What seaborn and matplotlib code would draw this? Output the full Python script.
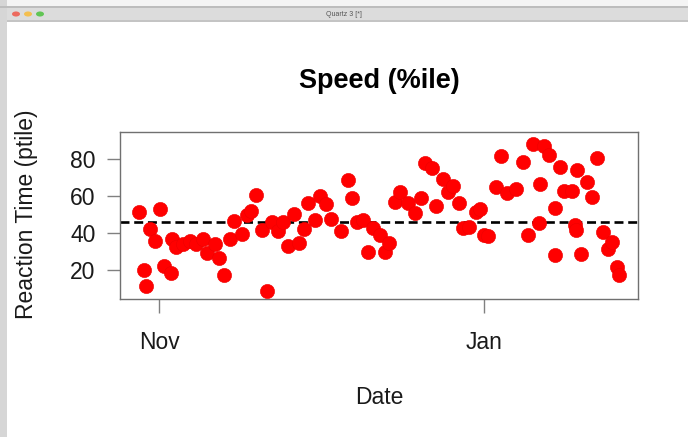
import matplotlib
matplotlib.use("Agg")
import matplotlib.pyplot as plt
from matplotlib.patches import Rectangle, Circle
import pandas as pd
import seaborn as sns

# Daily speed percentile scores
dates = [
    "2015-10-28 06:00", "2015-10-29 06:00", "2015-10-29 12:00", "2015-10-30 06:00",
    "2015-10-31 06:00", "2015-11-01 06:00", "2015-11-02 00:00", "2015-11-03 06:00",
    "2015-11-03 12:00", "2015-11-04 06:00", "2015-11-05 12:00", "2015-11-06 18:00",
    "2015-11-08 00:00", "2015-11-09 06:00", "2015-11-10 00:00", "2015-11-11 12:00",
    "2015-11-12 06:00", "2015-11-13 06:00", "2015-11-14 06:00", "2015-11-15 00:00",
    "2015-11-16 12:00", "2015-11-17 12:00", "2015-11-18 06:00", "2015-11-19 06:00",
    "2015-11-20 06:00", "2015-11-21 06:00", "2015-11-22 06:00", "2015-11-23 06:00",
    "2015-11-24 06:00", "2015-11-25 06:00", "2015-11-26 06:00", "2015-11-27 06:00",
    "2015-11-28 06:00", "2015-11-29 00:00", "2015-11-30 06:00", "2015-12-01 06:00",
    "2015-12-02 06:00", "2015-12-03 06:00", "2015-12-05 06:00", "2015-12-06 12:00",
    "2015-12-07 06:00", "2015-12-08 06:00", "2015-12-09 06:00", "2015-12-10 06:00",
    "2015-12-11 06:00", "2015-12-12 12:00", "2015-12-13 12:00", "2015-12-14 06:00",
    "2015-12-15 06:00", "2015-12-16 06:00", "2015-12-17 18:00", "2015-12-19 00:00",
    "2015-12-20 06:00", "2015-12-21 00:00", "2015-12-22 06:00", "2015-12-23 00:00",
    "2015-12-24 06:00", "2015-12-25 06:00", "2015-12-26 06:00", "2015-12-27 06:00",
    "2015-12-28 00:00", "2015-12-29 06:00", "2015-12-30 12:00", "2015-12-31 06:00",
    "2016-01-01 00:00", "2016-01-01 18:00", "2016-01-03 06:00", "2016-01-04 06:00",
    "2016-01-05 06:00", "2016-01-07 00:00", "2016-01-08 06:00", "2016-01-09 06:00",
    "2016-01-10 06:00", "2016-01-11 06:00", "2016-01-11 12:00", "2016-01-12 06:00",
    "2016-01-13 06:00", "2016-01-14 06:00", "2016-01-14 06:00", "2016-01-15 06:00",
    "2016-01-16 00:00", "2016-01-17 12:00", "2016-01-18 00:00", "2016-01-18 06:00",
    "2016-01-18 12:00", "2016-01-19 06:00", "2016-01-20 06:00", "2016-01-21 06:00",
    "2016-01-22 06:00", "2016-01-23 06:00", "2016-01-24 06:00", "2016-01-25 00:00",
    "2016-01-26 00:00", "2016-01-26 06:00",
]
speed_ptile = [
    51.5, 20.0, 11.4, 42.0,
    35.7, 53.0, 22.3, 18.6,
    37.0, 32.3, 34.2, 35.8,
    34.0, 36.6, 29.4, 34.0,
    26.6, 17.3, 37.0, 46.7,
    39.3, 49.7, 52.0, 60.5,
    41.6, 8.8, 46.0, 41.0,
    46.0, 33.0, 50.3, 34.4,
    42.0, 56.0, 47.0, 60.2,
    55.7, 47.4, 41.0, 68.6,
    58.8, 46.0, 47.0, 29.9,
    42.5, 39.0, 29.6, 34.8,
    56.6, 62.3, 56.4, 50.6,
    58.8, 77.7, 75.3, 54.8,
    69.2, 62.3, 65.6, 56.4,
    42.9, 43.4, 51.2, 52.8,
    39.0, 38.4, 65.0, 81.6,
    61.4, 63.8, 78.6, 39.0,
    88.0, 45.2, 66.3, 87.2,
    82.2, 53.7, 28.1, 75.8,
    62.7, 62.7, 44.3, 41.6,
    74.0, 28.5, 67.8, 59.6,
    80.4, 40.4, 31.2, 35.3,
    21.8, 17.3,
]
reference_level = 46
y_ticks = [20, 40, 60, 80]
x_tick_dates = ["2015-11-01", "2016-01-01"]
x_tick_labels = ["Nov", "Jan"]

df = pd.DataFrame({"Date": pd.to_datetime(dates), "Speed": speed_ptile})

sns.set_theme(style="white")
plt.rcParams["font.family"] = ["Liberation Sans", "DejaVu Sans"]

W, H = 688, 437
fig = plt.figure(figsize=(W / 100, H / 100), dpi=100)
fig.patch.set_facecolor("white")

# window frame around the graphics device
def px_rect(x0, y0, x1, y1, color, z=0):
    fig.patches.append(Rectangle((x0 / W, 1 - y1 / H), (x1 - x0) / W, (y1 - y0) / H,
                                 transform=fig.transFigure, facecolor=color,
                                 edgecolor="none", zorder=z))

px_rect(0, 0, W, 7, "#f4f4f4")
px_rect(0, 0, 7, H, "#d6d6d6")
px_rect(7, 7, W, 21, "#dcdcdc")
px_rect(7, 20, W, 22, "#c4c4c4")
px_rect(0, 6, W, 8, "#bdbdbd")
for cx, col in zip([16, 28, 40], ["#ec6a5e", "#f4bf4f", "#61c554"]):
    fig.patches.append(Circle((cx / W, 1 - 14 / H), 4 / W, transform=fig.transFigure,
                              facecolor=col, edgecolor="none", zorder=2))
fig.text(344 / W, 1 - 14 / H, "Quartz 3 [*]", ha="center", va="center",
         fontsize=5, color="#555555")

ax = fig.add_axes([120 / W, 1 - 299 / H, 518 / W, 167 / H])
ax.set_facecolor("white")

ax.axhline(reference_level, color="black", lw=1.9, linestyle=(0, (3.4, 1.8)), zorder=1)
sns.scatterplot(data=df, x="Date", y="Speed", ax=ax, color="#ff0000", s=105,
                edgecolor="#ee0000", linewidth=0.4, zorder=3, legend=False)

ax.set_xlim(pd.Timestamp("2015-10-24 16:18"), pd.Timestamp("2016-01-29 21:36"))
ax.set_ylim(4.3, 94.6)
ax.set_xticks(pd.to_datetime(x_tick_dates))
ax.set_xticklabels(x_tick_labels)
ax.set_yticks(y_ticks)
ax.set_yticklabels([str(v) for v in y_ticks])

for sp in ax.spines.values():
    sp.set_visible(True)
    sp.set_color("#707070")
    sp.set_linewidth(1.0)

ax.tick_params(axis="x", direction="out", length=10, width=1.0, color="#808080",
               labelsize=16.5, pad=13, labelcolor="#1a1a1a", bottom=True)
ax.tick_params(axis="y", direction="out", length=9.5, width=1.0, color="#808080",
               labelsize=16.5, pad=8, labelcolor="#1a1a1a", left=True)

ax.set_xlabel("Date", fontsize=16.5, color="#1a1a1a")
ax.xaxis.set_label_coords(0.5, -0.52)
ax.set_ylabel("Reaction Time (ptile)", fontsize=16.5, color="#1a1a1a")
ax.yaxis.set_label_coords(-0.159, 0.51)
ax.set_title("Speed (%ile)", fontsize=19.5, fontweight="bold", pad=32, color="black")

fig.savefig("out.png", dpi=100)
